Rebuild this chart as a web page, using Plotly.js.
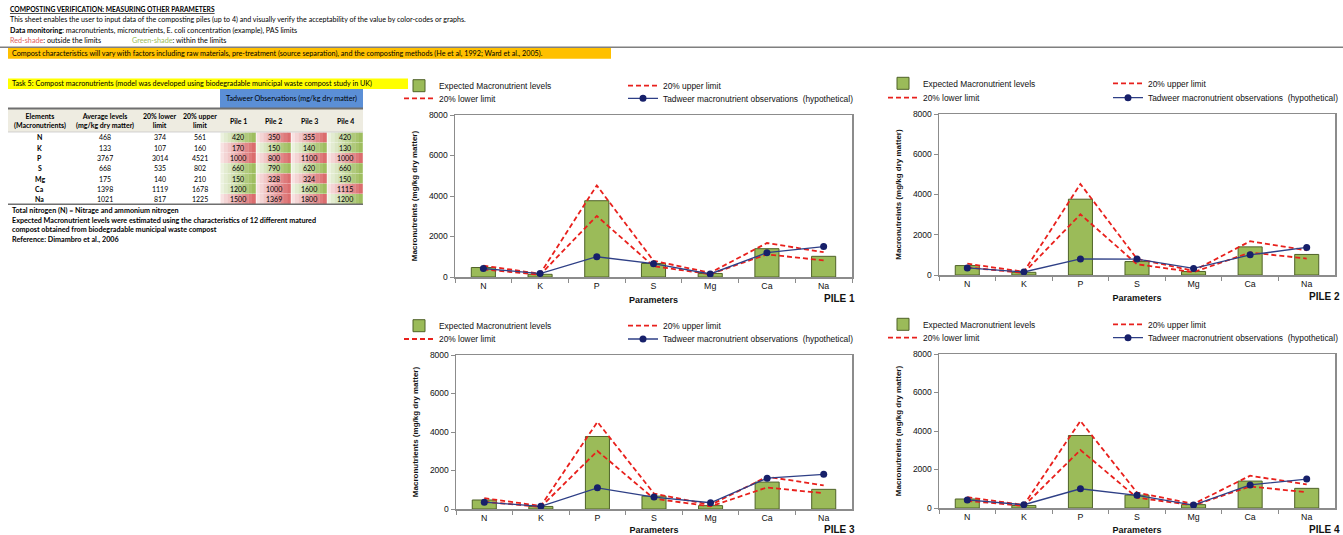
<!DOCTYPE html>
<html><head><meta charset="utf-8">
<script src="https://cdn.plot.ly/plotly-3.0.1.min.js"></script>
<style>html,body{margin:0;padding:0;background:#fff;overflow:hidden}#chart{width:1343px;height:535px}</style>
</head><body><div id="chart"></div>
<script>
const W = 1343, H = 535;
// ---------- data ----------
const categories = ['N', 'K', 'P', 'S', 'Mg', 'Ca', 'Na'];
const expectedLevels = [468, 133, 3767, 668, 175, 1398, 1021];
const lowerLimit = [374, 107, 3014, 535, 140, 1119, 817];
const upperLimit = [561, 160, 4521, 802, 210, 1678, 1225];
const pile1 = [420, 170, 1000, 660, 150, 1200, 1500];
const pile2 = [350, 150, 800, 790, 328, 1000, 1369];
const pile3 = [355, 140, 1100, 620, 324, 1600, 1800];
const pile4 = [420, 130, 1000, 660, 150, 1115, 1200];
const pile4Plotted = [420, 170, 1000, 660, 150, 1200, 1500]; // values drawn in the PILE 4 graph
const pileNames = ['Pile 1', 'Pile 2', 'Pile 3', 'Pile 4'];
const chartLabels = ['PILE 1', 'PILE 2', 'PILE 3', 'PILE 4'];
const yTitles = ['Macronutreints (mg/kg dry matter)', 'Macronutreints (mg/kg dry matter)',
                 'Macronutrients (mg/kg dry matter)', 'Macronutreints (mg/kg dry matter)'];
const seriesNames = ['Expected Macronutrient levels', '20% upper limit', '20% lower limit',
                     'Tadweer macronutrient observations  (hypothetical)'];

const SF = 'Lato, "Liberation Sans", sans-serif';       // sheet font
const CF = 'Arial, "Liberation Sans", sans-serif';       // chart font
const px = v => v / W;
const py = v => 1 - v / H;

// ---------- chart geometry (pixels) ----------
const boxes = [
  {l: 455, r: 852, t: 115, b: 277, leg: [439, 663], rows: [85.7, 98.3], lab: [857, 298]},
  {l: 939, r: 1335, t: 114, b: 275, leg: [923, 1148], rows: [83.3, 97.7], lab: [1342, 296.5]},
  {l: 456, r: 852, t: 355, b: 509, leg: [439, 663], rows: [325.7, 339], lab: [857, 529.5]},
  {l: 939, r: 1335, t: 354, b: 508, leg: [923, 1148], rows: [324.3, 337.7], lab: [1342, 529]}
];
const observations = [pile1, pile2, pile3, pile4Plotted];

const traces = [];
const layout = {
  width: W, height: H, margin: {l: 0, r: 0, t: 0, b: 0, autoexpand: false},
  paper_bgcolor: '#fff', plot_bgcolor: '#fff',
  showlegend: true, bargap: 0.575,
  shapes: [], annotations: []
};
let legendCount = 0;
function addLegend(x, y) {
  legendCount++;
  const key = legendCount === 1 ? 'legend' : 'legend' + legendCount;
  layout[key] = {x: px(x - 40), y: py(y), xanchor: 'left', yanchor: 'middle',
    bgcolor: 'rgba(0,0,0,0)', borderwidth: 0, font: {family: CF, size: 8.4, color: '#111'}};
  return key;
}

boxes.forEach((b, i) => {
  const s = i === 0 ? '' : String(i + 1);
  const xa = 'x' + s, ya = 'y' + s;
  const legPos = [[b.leg[0], b.rows[0]], [b.leg[1], b.rows[0]], [b.leg[0], b.rows[1]], [b.leg[1], b.rows[1]]];
  const lk = legPos.map(p => addLegend(p[0], p[1]));
  traces.push({type: 'bar', x: categories, y: expectedLevels, name: seriesNames[0], xaxis: xa, yaxis: ya,
    legend: lk[0], marker: {color: '#9bbb59', line: {color: '#4f6228', width: 1}}, hoverinfo: 'y'});
  traces.push({type: 'scatter', mode: 'lines', x: categories, y: upperLimit, name: seriesNames[1], xaxis: xa, yaxis: ya,
    legend: lk[1], line: {color: '#e8201c', width: 1.8, dash: '5px,3px'}});
  traces.push({type: 'scatter', mode: 'lines', x: categories, y: lowerLimit, name: seriesNames[2], xaxis: xa, yaxis: ya,
    legend: lk[2], line: {color: '#e8201c', width: 1.8, dash: '5px,3px'}});
  traces.push({type: 'scatter', mode: 'lines+markers', x: categories, y: observations[i], name: seriesNames[3], xaxis: xa, yaxis: ya,
    legend: lk[3], line: {color: '#2e3f86', width: 1.3}, marker: {color: '#17206a', size: 7}});

  layout['xaxis' + s] = {domain: [px(b.l), px(b.r)], anchor: ya, type: 'category', range: [-0.5, 6.5],
    tickson: 'boundaries', ticks: 'outside', ticklen: 4, tickcolor: '#8c8c8c',
    showline: true, linecolor: '#8c8c8c', linewidth: 1.5, mirror: true, showgrid: false, fixedrange: true,
    tickfont: {family: CF, size: 8.8, color: '#111'},
    title: {text: '<b>Parameters</b>', font: {family: CF, size: 9, color: '#111'}, standoff: 6}};
  layout['yaxis' + s] = {domain: [py(b.b), py(b.t)], anchor: xa, range: [0, 8000], dtick: 2000,
    ticks: 'outside', ticklen: 4, tickcolor: '#8c8c8c', showline: true, linecolor: '#8c8c8c', linewidth: 1.5,
    mirror: true, showgrid: false, zeroline: false, fixedrange: true,
    tickfont: {family: CF, size: 8.5, color: '#111'},
    title: {text: '<b>' + yTitles[i] + '</b>', font: {family: CF, size: 8, color: '#111'}, standoff: 10}};
  layout.annotations.push({xref: 'paper', yref: 'paper', x: px(b.lab[0]), y: py(b.lab[1]), xanchor: 'right', yanchor: 'middle',
    text: '<b>' + chartLabels[i] + '</b>', showarrow: false, font: {family: CF, size: 10, color: '#111'}});
});

// ---------- sheet text ----------
function txt(x, y, text, o) {
  o = o || {};
  layout.annotations.push({xref: 'paper', yref: 'paper', x: px(x), y: py(y), xanchor: o.anchor || 'left', yanchor: 'middle',
    text: text, showarrow: false, align: o.align || 'left',
    font: {family: SF, size: o.size || 7.2, color: o.color || '#000'}});
}
function rect(x0, y0, x1, y1, fill, line) {
  layout.shapes.push({type: 'rect', xref: 'paper', yref: 'paper', x0: px(x0), x1: px(x1), y0: py(y1), y1: py(y0),
    fillcolor: fill, line: line || {width: 0}, layer: 'below'});
}
function hline(x0, x1, y, color, w) {
  layout.shapes.push({type: 'line', xref: 'paper', yref: 'paper', x0: px(x0), x1: px(x1), y0: py(y), y1: py(y),
    line: {color: color, width: w}});
}

txt(8, 9, '<b><u>COMPOSTING VERIFICATION: MEASURING OTHER PARAMETERS</u></b>', {size: 6.7});
txt(8, 19.5, 'This sheet enables the user to input data of the composting piles (up to 4) and visually verify the acceptability of the value by color-codes or graphs.', {size: 7.1});
txt(8, 30, '<b>Data monitoring</b>: macronutrients, micronutrients, E. coli concentration (example), PAS limits');
txt(8, 40.5, '<span style="color:#e06060">Red-shade</span>: outside the limits');
txt(130, 40.5, '<span style="color:#9bbb59">Green-shade</span>: within the limits');
hline(0, W, 47.3, '#7f7f7f', 1.5);
rect(8, 48, 611, 58.7, '#ffc000');
txt(10, 53.3, 'Compost characteristics will vary with factors including raw materials, pre-treatment (source separation), and the composting methods (He et al, 1992; Ward et al., 2005).');

rect(8, 78.5, 408, 89, '#ffff00');
txt(10, 83.8, 'Task 5: Compost macronutrients (model was developed using biodegradable municipal waste compost study in UK)');
rect(220, 89, 363, 108.5, '#5b8fd6');
txt(291.5, 98.8, 'Tadweer Observations (mg/kg dry matter)', {anchor: 'center'});
rect(8, 108.5, 363, 132, '#eeece1');
hline(8, 363, 108.5, '#6f6f6f', 2);
hline(8, 363, 132, '#c8c8c8', 0.8);
hline(8, 363, 204.3, '#6f6f6f', 1.5);

const headerTexts = ['<b>Elements<br>(Macronutrients)</b>', '<b>Average levels<br>(mg/kg dry matter)</b>',
                     '<b>20% lower<br>limit</b>', '<b>20% upper<br>limit</b>'];
const headerX = [39.5, 105, 159.5, 199.5];
headerTexts.forEach((t, k) => txt(headerX[k], 120.5, t, {anchor: 'center', align: 'center', size: 7}));
const pileEdges = [220, 256, 291, 327, 363];
pileNames.forEach((n, k) => txt((pileEdges[k] + pileEdges[k + 1]) / 2, 120.5, '<b>' + n + '</b>', {anchor: 'center', size: 7}));

const rowY = [137.5, 147.7, 158, 168.2, 178.5, 188.7, 199];
const pileValues = [pile1, pile2, pile3, pile4];
const RED = [217, 102, 104], GREEN = [155, 187, 89];
function mix(c, t) { return 'rgb(' + c.map(v => Math.round(255 + (v - 255) * t)).join(',') + ')'; }
categories.forEach((c, r) => {
  txt(39.5, rowY[r], '<b>' + c + '</b>', {anchor: 'center', size: 7});
  txt(105, rowY[r], String(expectedLevels[r]), {anchor: 'center', size: 7});
  txt(159.5, rowY[r], String(lowerLimit[r]), {anchor: 'center', size: 7});
  txt(199.5, rowY[r], String(upperLimit[r]), {anchor: 'center', size: 7});
  pileValues.forEach((pv, k) => {
    const v = pv[r];
    const ok = v >= lowerLimit[r] && v <= upperLimit[r];
    const base = ok ? GREEN : RED;
    const x0 = pileEdges[k] + 0.5, x1 = pileEdges[k + 1] - 0.5, n = 10;
    const y0 = rowY[r] - 5, y1 = rowY[r] + 5;
    for (let j = 0; j < n; j++) {
      const a = x0 + (x1 - x0) * j / n, bb = x0 + (x1 - x0) * (j + 1) / n + 0.3;
      rect(a, y0, bb, y1, mix(base, 0.15 + 0.85 * (j + 0.5) / n));
    }
    txt((pileEdges[k] + pileEdges[k + 1]) / 2, rowY[r], String(v), {anchor: 'center', size: 7});
  });
});

txt(10, 210, '<b>Total nitrogen (N) = Nitrage and ammonium nitrogen</b>');
txt(10, 220, '<b>Expected Macronutrient levels were estimated using the characteristics of 12 different matured</b>');
txt(10, 229.5, '<b>compost obtained from biodegradable municipal waste compost</b>');
txt(10, 239.5, '<b>Reference: Dimambro et al., 2006</b>');

Plotly.newPlot('chart', traces, layout, {displayModeBar: false, staticPlot: true});
</script></body></html>
